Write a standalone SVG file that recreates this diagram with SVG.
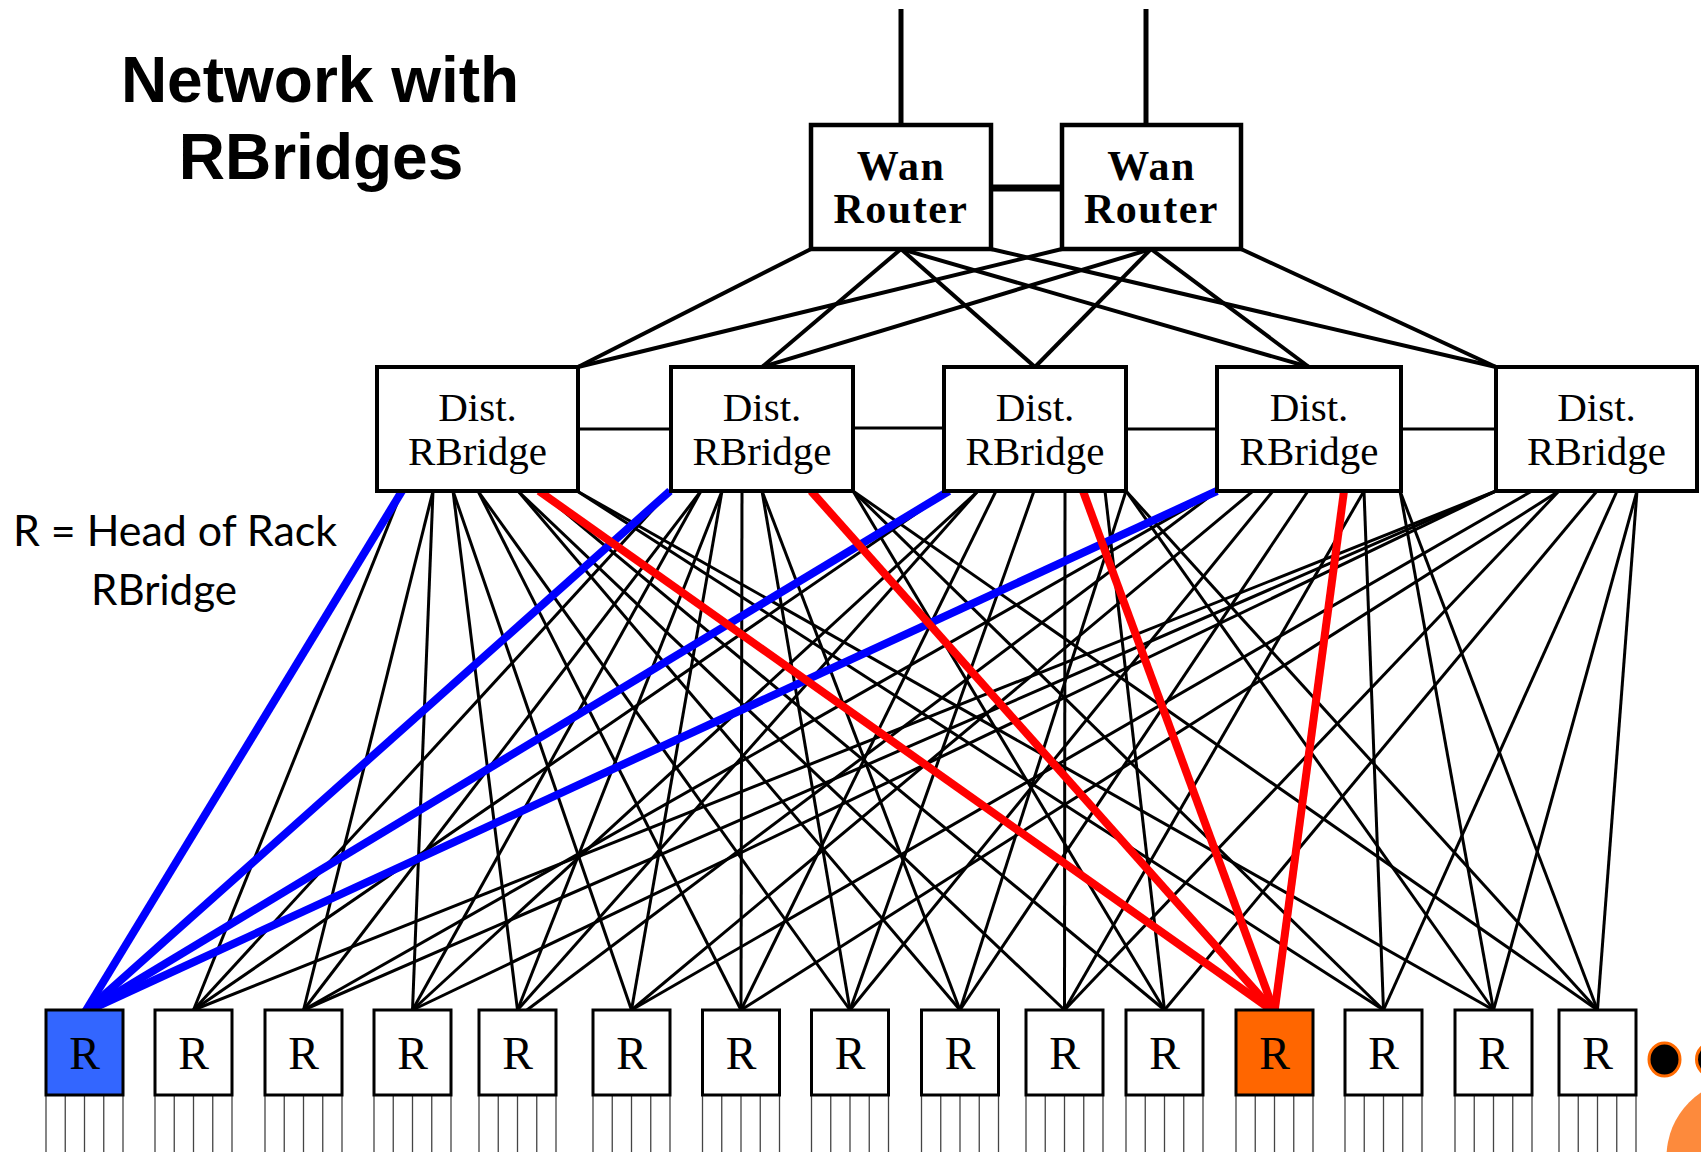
<svg xmlns="http://www.w3.org/2000/svg" width="1701" height="1152" viewBox="0 0 1701 1152">
  <style>
    .title { font-family: "Liberation Sans", Arial, sans-serif; font-weight: bold; font-size: 64px; fill: #000; text-anchor: middle; }
    .legend { font-family: Lato, "Open Sans", sans-serif; font-size: 43px; fill: #000; }
    .wan rect { fill: #fff; stroke: #000; stroke-width: 4.5; }
    .wan text { font-family: "Liberation Serif", "Times New Roman", serif; font-weight: bold; font-size: 42px; text-anchor: middle; letter-spacing: 1.5px; }
    .dist rect { fill: #fff; stroke: #000; stroke-width: 4; }
    .dist text { font-family: "Liberation Serif", "Times New Roman", serif; font-size: 41px; text-anchor: middle; }
    .rack rect { fill: #fff; stroke: #000; stroke-width: 3; }
    .rack text { font-family: "Liberation Serif", "Times New Roman", serif; font-size: 46px; text-anchor: middle; }
    .legs line { stroke: #444; stroke-width: 1.3; }
    .up { stroke: #000; stroke-width: 5; }
    .core { stroke: #000; stroke-width: 4; }
    .peer { stroke: #000; stroke-width: 3; }
    .down { stroke: #000; stroke-width: 3; }
    .blue { stroke: #0000ff; stroke-width: 8; }
    .red { stroke: #ff0000; stroke-width: 8; }
  </style>

  <rect x="0" y="0" width="1701" height="1152" fill="#fff"/>

  <!-- heading and legend -->
  <text class="title" x="320" y="102">Network with</text>
  <text class="title" x="321" y="179">RBridges</text>
  <text class="legend" x="13" y="546" textLength="324" lengthAdjust="spacingAndGlyphs">R = Head of Rack</text>
  <text class="legend" x="91" y="605" textLength="146" lengthAdjust="spacingAndGlyphs">RBridge</text>

  <!-- connectors -->
  <g id="links" stroke-linecap="butt">
    <!-- uplinks out of the WAN routers -->
    <line class="up" x1="901" y1="9" x2="901" y2="125"/>
    <line class="up" x1="1146" y1="9" x2="1146" y2="125"/>
    <line class="up" x1="991" y1="188" x2="1062" y2="188" style="stroke-width:7"/>

    <!-- WAN routers to distribution RBridges -->
    <line class="core" x1="811" y1="249" x2="578" y2="367"/>
    <line class="core" x1="901" y1="249" x2="762" y2="367"/>
    <line class="core" x1="901" y1="249" x2="1035" y2="367"/>
    <line class="core" x1="901" y1="249" x2="1309" y2="367"/>
    <line class="core" x1="991" y1="249" x2="1496" y2="367"/>
    <line class="core" x1="1062" y1="249" x2="578" y2="367"/>
    <line class="core" x1="1151" y1="249" x2="762" y2="367"/>
    <line class="core" x1="1151" y1="249" x2="1035" y2="367"/>
    <line class="core" x1="1151" y1="249" x2="1309" y2="367"/>
    <line class="core" x1="1241" y1="249" x2="1496" y2="367"/>

    <!-- links between neighbouring distribution RBridges -->
    <line class="peer" x1="578" y1="429" x2="671" y2="429"/>
    <line class="peer" x1="853" y1="428" x2="944" y2="428"/>
    <line class="peer" x1="1126" y1="429" x2="1217" y2="429"/>
    <line class="peer" x1="1401" y1="429" x2="1494" y2="429"/>

    <!-- distribution RBridges to head-of-rack RBridges -->
    <g class="down">
      <line x1="402" y1="491" x2="193.5" y2="1010"/>
      <line x1="670" y1="491" x2="193.5" y2="1010"/>
      <line x1="949" y1="491" x2="193.5" y2="1010"/>
      <line x1="1496" y1="491" x2="193.5" y2="1010"/>

      <line x1="433" y1="491" x2="303.5" y2="1010"/>
      <line x1="701" y1="491" x2="303.5" y2="1010"/>
      <line x1="1217" y1="491" x2="303.5" y2="1010"/>
      <line x1="1496" y1="491" x2="303.5" y2="1010"/>

      <line x1="433" y1="491" x2="412.5" y2="1010"/>
      <line x1="701" y1="491" x2="412.5" y2="1010"/>
      <line x1="978" y1="491" x2="412.5" y2="1010"/>
      <line x1="1496" y1="491" x2="412.5" y2="1010"/>

      <line x1="453" y1="491" x2="517.5" y2="1010"/>
      <line x1="722" y1="491" x2="517.5" y2="1010"/>
      <line x1="978" y1="491" x2="517.5" y2="1010"/>
      <line x1="1217" y1="491" x2="519" y2="1016"/>

      <line x1="453" y1="491" x2="631.5" y2="1010"/>
      <line x1="722" y1="491" x2="631.5" y2="1010"/>
      <line x1="1253" y1="491" x2="631.5" y2="1010"/>
      <line x1="1532" y1="491" x2="631.5" y2="1010"/>

      <line x1="478" y1="491" x2="741" y2="1010"/>
      <line x1="742" y1="491" x2="741" y2="1010"/>
      <line x1="996" y1="491" x2="741" y2="1010"/>
      <line x1="1559" y1="491" x2="741" y2="1010"/>

      <line x1="478" y1="491" x2="850" y2="1010"/>
      <line x1="762" y1="491" x2="850" y2="1010"/>
      <line x1="1034" y1="491" x2="850" y2="1010"/>
      <line x1="1273" y1="491" x2="850" y2="1010"/>

      <line x1="518" y1="491" x2="960" y2="1010"/>
      <line x1="762" y1="491" x2="960" y2="1010"/>
      <line x1="1126" y1="491" x2="960" y2="1010"/>
      <line x1="1308" y1="491" x2="960" y2="1010"/>

      <line x1="518" y1="491" x2="1064.5" y2="1010"/>
      <line x1="1065" y1="491" x2="1064.5" y2="1010"/>
      <line x1="1364" y1="491" x2="1064.5" y2="1010"/>
      <line x1="1559" y1="491" x2="1064.5" y2="1010"/>

      <line x1="539" y1="491" x2="1164.5" y2="1010"/>
      <line x1="853" y1="491" x2="1164.5" y2="1010"/>
      <line x1="1105" y1="491" x2="1164.5" y2="1010"/>
      <line x1="1597" y1="491" x2="1164.5" y2="1010"/>

      <line x1="577" y1="491" x2="1383.5" y2="1010"/>
      <line x1="853" y1="491" x2="1383.5" y2="1010"/>
      <line x1="1364" y1="491" x2="1383.5" y2="1010"/>
      <line x1="1617" y1="491" x2="1383.5" y2="1010"/>

      <line x1="577" y1="491" x2="1493.5" y2="1010"/>
      <line x1="1126" y1="491" x2="1493.5" y2="1010"/>
      <line x1="1400" y1="491" x2="1493.5" y2="1010"/>
      <line x1="1637" y1="491" x2="1493.5" y2="1010"/>

      <line x1="853" y1="491" x2="1597.5" y2="1010"/>
      <line x1="1126" y1="491" x2="1597.5" y2="1010"/>
      <line x1="1400" y1="491" x2="1597.5" y2="1010"/>
      <line x1="1637" y1="491" x2="1597.5" y2="1010"/>
    </g>

    <!-- highlighted paths -->
    <g class="blue">
      <line x1="402" y1="491" x2="85" y2="1012"/>
      <line x1="670" y1="491" x2="85" y2="1012"/>
      <line x1="949" y1="491" x2="85" y2="1012"/>
      <line x1="1217" y1="491" x2="85" y2="1012"/>
    </g>
    <g class="red">
      <line x1="539" y1="491" x2="1274.5" y2="1012"/>
      <line x1="811" y1="491" x2="1274.5" y2="1012"/>
      <line x1="1083" y1="491" x2="1274.5" y2="1012"/>
      <line x1="1344" y1="491" x2="1274.5" y2="1012"/>
    </g>
  </g>

  <!-- WAN routers -->
  <g id="wan1" class="wan">
    <rect x="811" y="125" width="180" height="124"/>
    <text x="901" y="180">Wan</text>
    <text x="901" y="223">Router</text>
  </g>
  <g id="wan2" class="wan">
    <rect x="1062" y="125" width="179" height="124"/>
    <text x="1151.5" y="180">Wan</text>
    <text x="1151.5" y="223">Router</text>
  </g>

  <!-- distribution RBridges -->
  <g id="dist1" class="dist">
    <rect x="377" y="367" width="201" height="124"/>
    <text x="477.5" y="421">Dist.</text>
    <text x="477.5" y="465">RBridge</text>
  </g>
  <g id="dist2" class="dist">
    <rect x="671" y="367" width="182" height="124"/>
    <text x="762" y="421">Dist.</text>
    <text x="762" y="465">RBridge</text>
  </g>
  <g id="dist3" class="dist">
    <rect x="944" y="367" width="182" height="124"/>
    <text x="1035" y="421">Dist.</text>
    <text x="1035" y="465">RBridge</text>
  </g>
  <g id="dist4" class="dist">
    <rect x="1217" y="367" width="184" height="124"/>
    <text x="1309" y="421">Dist.</text>
    <text x="1309" y="465">RBridge</text>
  </g>
  <g id="dist5" class="dist">
    <rect x="1496" y="367" width="201" height="124"/>
    <text x="1596.5" y="421">Dist.</text>
    <text x="1596.5" y="465">RBridge</text>
  </g>

  <!-- head-of-rack RBridges, each with five server links below -->
  <defs>
    <g id="legs" class="legs">
      <line x1="0" y1="1096" x2="0" y2="1152"/>
      <line x1="19.25" y1="1096" x2="19.25" y2="1152"/>
      <line x1="38.5" y1="1096" x2="38.5" y2="1152"/>
      <line x1="57.75" y1="1096" x2="57.75" y2="1152"/>
      <line x1="77" y1="1096" x2="77" y2="1152"/>
    </g>
  </defs>
  <g id="rack1" class="rack"><use href="#legs" x="46"/><rect x="46" y="1010" width="77" height="85" style="fill:#3366ff"/><text x="84.5" y="1069">R</text></g>
  <g id="rack2" class="rack"><use href="#legs" x="155"/><rect x="155" y="1010" width="77" height="85"/><text x="193.5" y="1069">R</text></g>
  <g id="rack3" class="rack"><use href="#legs" x="265"/><rect x="265" y="1010" width="77" height="85"/><text x="303.5" y="1069">R</text></g>
  <g id="rack4" class="rack"><use href="#legs" x="374"/><rect x="374" y="1010" width="77" height="85"/><text x="412.5" y="1069">R</text></g>
  <g id="rack5" class="rack"><use href="#legs" x="479"/><rect x="479" y="1010" width="77" height="85"/><text x="517.5" y="1069">R</text></g>
  <g id="rack6" class="rack"><use href="#legs" x="593"/><rect x="593" y="1010" width="77" height="85"/><text x="631.5" y="1069">R</text></g>
  <g id="rack7" class="rack"><use href="#legs" x="702.5"/><rect x="702.5" y="1010" width="77" height="85"/><text x="741" y="1069">R</text></g>
  <g id="rack8" class="rack"><use href="#legs" x="811.5"/><rect x="811.5" y="1010" width="77" height="85"/><text x="850" y="1069">R</text></g>
  <g id="rack9" class="rack"><use href="#legs" x="921.5"/><rect x="921.5" y="1010" width="77" height="85"/><text x="960" y="1069">R</text></g>
  <g id="rack10" class="rack"><use href="#legs" x="1026"/><rect x="1026" y="1010" width="77" height="85"/><text x="1064.5" y="1069">R</text></g>
  <g id="rack11" class="rack"><use href="#legs" x="1126"/><rect x="1126" y="1010" width="77" height="85"/><text x="1164.5" y="1069">R</text></g>
  <g id="rack12" class="rack"><use href="#legs" x="1236"/><rect x="1236" y="1010" width="77" height="85" style="fill:#ff6600"/><text x="1274.5" y="1069">R</text></g>
  <g id="rack13" class="rack"><use href="#legs" x="1345"/><rect x="1345" y="1010" width="77" height="85"/><text x="1383.5" y="1069">R</text></g>
  <g id="rack14" class="rack"><use href="#legs" x="1455"/><rect x="1455" y="1010" width="77" height="85"/><text x="1493.5" y="1069">R</text></g>
  <g id="rack15" class="rack"><use href="#legs" x="1559"/><rect x="1559" y="1010" width="77" height="85"/><text x="1597.5" y="1069">R</text></g>

  <!-- continuation dots and corner decoration -->
  <g id="more">
    <ellipse cx="1664.5" cy="1059.5" rx="15.5" ry="16.5" fill="#000" stroke="#ff6a00" stroke-width="3"/>
    <ellipse cx="1712" cy="1059.5" rx="15.5" ry="16.5" fill="#000" stroke="#ff6a00" stroke-width="3"/>
  </g>
  <circle cx="1744" cy="1157" r="77.5" fill="#fd8a3c"/>
</svg>
